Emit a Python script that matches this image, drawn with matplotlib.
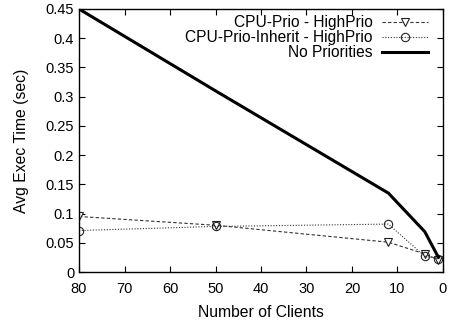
import matplotlib
matplotlib.use("Agg")
import matplotlib.pyplot as plt

# measured execution times per client count
clients = [80, 50, 12, 4, 1]
cpu_prio = [0.095, 0.080, 0.051, 0.031, 0.021]
cpu_prio_inherit = [0.071, 0.078, 0.082, 0.027, 0.023]
no_prio = [0.45, 0.31, 0.135, 0.069, 0.025]

x_ticks = [80, 70, 60, 50, 40, 30, 20, 10, 0]
y_ticks = [0, 0.05, 0.1, 0.15, 0.2, 0.25, 0.3, 0.35, 0.4, 0.45]
y_labels = ["0", "0.05", "0.1", "0.15", "0.2", "0.25", "0.3", "0.35", "0.4", "0.45"]

plt.rcParams['font.family'] = ['Liberation Sans', 'DejaVu Sans']
plt.rcParams['font.size'] = 10

fig = plt.figure(figsize=(4.5, 3.26), dpi=100)
ax = fig.add_axes([0.1756, 0.1656, 0.8088, 0.8068])

ax.plot(clients, cpu_prio, color='#333333', lw=0.8, ls=(0, (3, 2)),
        marker='v', ms=6, mfc='white', mec='#222222', mew=0.8,
        label='CPU-Prio - HighPrio')
ax.plot(clients, cpu_prio_inherit, color='#333333', lw=0.8, ls=(0, (1, 1.5)),
        marker='o', ms=6, mfc='none', mec='#222222', mew=0.8,
        label='CPU-Prio-Inherit - HighPrio')
ax.plot(clients, no_prio, color='black', lw=2.2, label='No Priorities')

ax.set_xlim(80, 0)
ax.set_ylim(0, 0.45)
ax.set_xticks(x_ticks)
ax.set_yticks(y_ticks)
ax.set_yticklabels(y_labels)
ax.tick_params(direction='in', top=True, right=True, length=4, width=0.8, labelsize=10.5)
ax.tick_params(axis='x', pad=7)
for s in ax.spines.values():
    s.set_linewidth(1.0)

ax.set_xlabel('Number of Clients', fontsize=11.3, labelpad=7)
ax.set_ylabel('Avg Exec Time (sec)', fontsize=11.3, labelpad=12)

ax.legend(loc='upper right', bbox_to_anchor=(0.99, 1.018), frameon=False,
          markerfirst=False, handlelength=3.0, handletextpad=0.6,
          labelspacing=0.0, fontsize=11.2, borderaxespad=0.3)

fig.savefig('out.png', dpi=100)
